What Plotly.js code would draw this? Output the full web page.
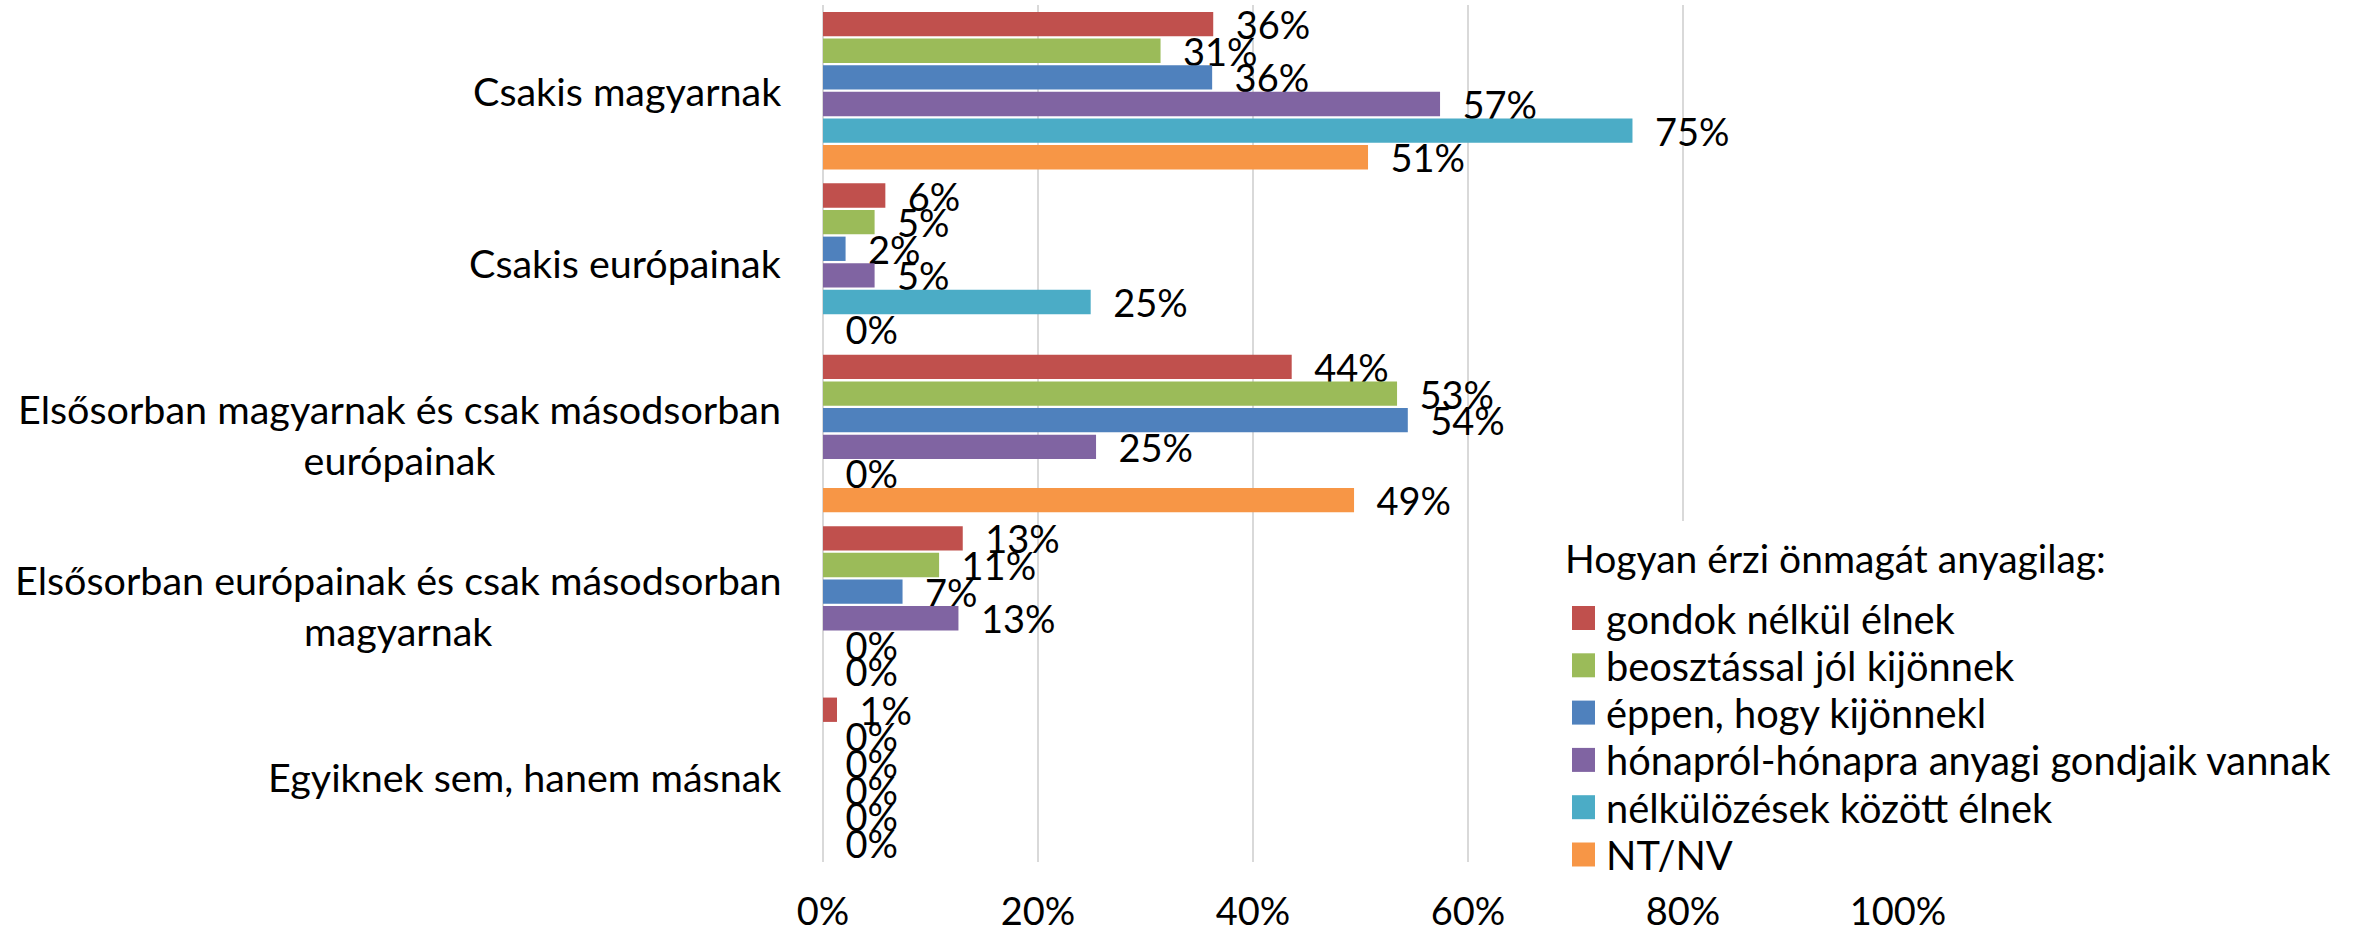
<!DOCTYPE html>
<html>
<head>
<meta charset="utf-8">
<script src="https://cdn.plot.ly/plotly-3.0.1.min.js"></script>
<style>
html,body{margin:0;padding:0;background:#fff;}
#chart{width:2369px;height:934px;}
</style>
</head>
<body>
<div id="chart"></div>
<script>
// ---- data ----
const categories = [
  "Csakis magyarnak",
  "Csakis európainak",
  "Elsősorban magyarnak és csak másodsorban<br>európainak",
  "Elsősorban európainak és csak másodsorban<br>magyarnak",
  "Egyiknek sem, hanem másnak"
];
const seriesNames = [
  "gondok nélkül élnek",
  "beosztással jól kijönnek",
  "éppen, hogy kijönnekl",
  "hónapról-hónapra anyagi gondjaik vannak",
  "nélkülözések között élnek",
  "NT/NV"
];
const seriesColors = ["#C0504D", "#9BBB59", "#4F81BD", "#8064A2", "#4BACC6", "#F79646"];
const gondokNelkul   = [0.363, 0.058, 0.436, 0.130, 0.013];
const beosztassal    = [0.314, 0.048, 0.534, 0.108, 0];
const eppenHogy      = [0.362, 0.021, 0.544, 0.074, 0];
const honaprolHonapra= [0.574, 0.048, 0.254, 0.126, 0];
const nelkulozesek   = [0.753, 0.249, 0, 0, 0];
const ntnv           = [0.507, 0, 0.494, 0, 0];
const seriesValues = [gondokNelkul, beosztassal, eppenHogy, honaprolHonapra, nelkulozesek, ntnv];
const xTickValues = [0, 0.2, 0.4, 0.6, 0.8, 1.0];
const legendTitle = "Hogyan érzi önmagát anyagilag:";

// ---- layout geometry (pixels) ----
const W = 2369, H = 934;
const M = {l: 823, r: 471, t: 5, b: 72};
const pw = W - M.l - M.r, ph = H - M.t - M.b;
const px2x = p => (p - M.l) / pw;
const py2y = p => (H - M.b - p) / ph;
const FONT = "Lato, 'Open Sans', sans-serif";

const traces = seriesNames.map((name, i) => ({
  type: 'bar',
  orientation: 'h',
  name: name,
  y: categories,
  x: seriesValues[i],
  marker: {color: seriesColors[i], line: {width: 0}},
  texttemplate: '\u00a0\u00a0%{x:.0%}',
  textposition: 'outside',
  constraintext: 'none',
  cliponaxis: false,
  textfont: {family: FONT, size: 38, color: '#000'},
  hoverinfo: 'x+name'
}));

const annotations = [];
const shapes = [];
// category labels (centered multi-line)
categories.forEach(c => {
  annotations.push({
    xref: 'paper', yref: 'y', x: 0, y: c, xanchor: 'right', yanchor: 'middle',
    xshift: -40, text: c, showarrow: false, align: 'center',
    font: {family: FONT, size: 39.5, color: '#000'}
  });
});
// legend background
shapes.push({type: 'rect', xref: 'paper', yref: 'paper', layer: 'above',
  x0: px2x(1550), x1: px2x(2369), y0: py2y(880), y1: py2y(521),
  fillcolor: '#fff', line: {width: 0}});
annotations.push({
  xref: 'paper', yref: 'paper', x: px2x(1563), y: py2y(558), xanchor: 'left', yanchor: 'middle',
  text: legendTitle, showarrow: false, font: {family: FONT, size: 39, color: '#000'}
});
seriesNames.forEach((n, i) => {
  const cy = 618 + i * 47.3;
  shapes.push({type: 'rect', xref: 'paper', yref: 'paper', layer: 'above',
    x0: px2x(1572), x1: px2x(1595), y0: py2y(cy + 12), y1: py2y(cy - 12),
    fillcolor: seriesColors[i], line: {width: 0}});
  annotations.push({
    xref: 'paper', yref: 'paper', x: px2x(1604), y: py2y(cy), xanchor: 'left', yanchor: 'middle',
    text: n, showarrow: false, font: {family: FONT, size: 39.8, color: '#000'}
  });
});

const layout = {
  width: W, height: H,
  margin: M,
  paper_bgcolor: '#fff', plot_bgcolor: '#fff',
  barmode: 'group',
  bargap: 0.068,
  bargroupgap: 0.086,
  showlegend: false,
  font: {family: FONT, color: '#000'},
  xaxis: {
    range: [0, 1],
    tickvals: xTickValues,
    tickformat: '.0%',
    showgrid: true, gridcolor: '#d9d9d9', gridwidth: 2,
    zeroline: true, zerolinecolor: '#d9d9d9', zerolinewidth: 2,
    showline: false,
    ticks: 'outside', ticklen: 16, tickcolor: 'rgba(0,0,0,0)',
    tickfont: {family: FONT, size: 38, color: '#000'},
    fixedrange: true
  },
  yaxis: {
    type: 'category',
    autorange: 'reversed',
    showticklabels: false,
    showgrid: false, zeroline: false, showline: false,
    fixedrange: true
  },
  shapes: shapes,
  annotations: annotations
};

Plotly.newPlot('chart', traces, layout, {displayModeBar: false, staticPlot: true});
</script>
</body>
</html>
